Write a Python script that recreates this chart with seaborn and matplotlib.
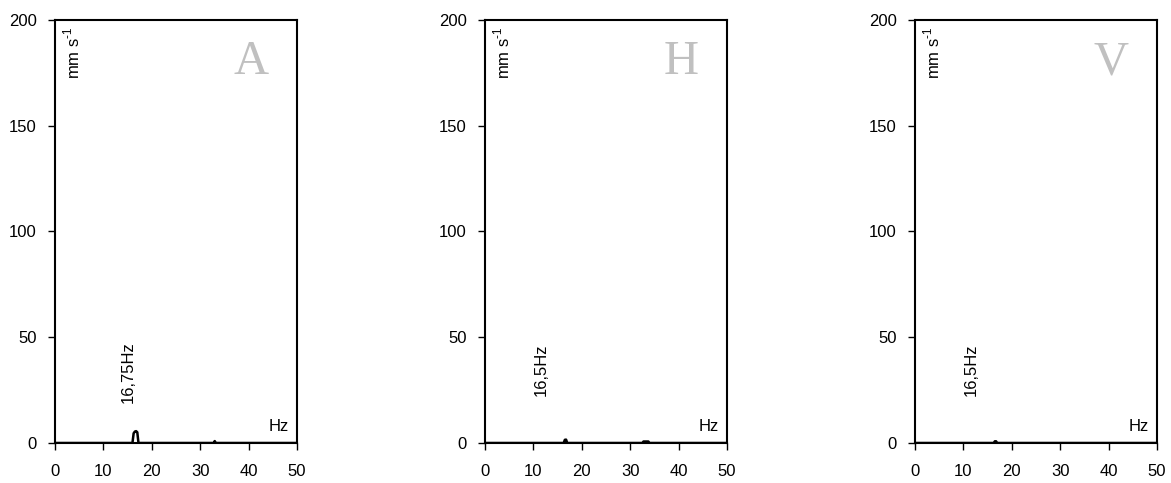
import matplotlib
matplotlib.use("Agg")
import matplotlib.pyplot as plt
import pandas as pd
import seaborn as sns

sns.set_theme(style="white")
plt.rcParams["font.family"] = ["Liberation Sans", "DejaVu Sans"]
plt.rcParams["text.color"] = "black"
plt.rcParams["mathtext.fontset"] = "custom"
plt.rcParams["mathtext.rm"] = "Liberation Sans"

# spectrum values (Hz, mm/s)
A_freq = [0, 16.0, 16.25, 16.5, 16.75, 17.0, 17.25, 32.75, 33.0, 33.25, 50]
A_amp = [0, 0, 4.6, 5.4, 5.6, 5.1, 0, 0, 0.9, 0, 0]

H_freq = [0, 16.25, 16.5, 16.75, 17.0, 32.5, 32.75, 33.75, 34.0, 50]
H_amp = [0, 0, 1.5, 1.6, 0, 0, 0.7, 0.7, 0, 0]

V_freq = [0, 16.25, 16.5, 16.75, 17.0, 50]
V_amp = [0, 0, 0.8, 0.8, 0, 0]

panel_letters = ["A", "H", "V"]
peak_labels = ["16,75Hz", "16,5Hz", "16,5Hz"]
peak_label_x = [15.1, 11.6, 11.6]
peak_label_y = [19, 22, 22]

x_ticks = [0, 10, 20, 30, 40, 50]
y_ticks = [0, 50, 100, 150, 200]

fig = plt.figure(figsize=(11.71, 4.83), dpi=100)
lefts = [55 / 1171, 485 / 1171, 915 / 1171]
series = [(A_freq, A_amp), (H_freq, H_amp), (V_freq, V_amp)]

for i, (freq, amp) in enumerate(series):
    ax = fig.add_axes([lefts[i], 40 / 483, 242 / 1171, 423 / 483])
    df = pd.DataFrame({"Hz": freq, "amp": amp})
    sns.lineplot(data=df, x="Hz", y="amp", ax=ax, color="black",
                 linewidth=1.8, sort=False, estimator=None)
    ax.set_xlim(0, 50)
    ax.set_ylim(0, 200)
    ax.set_xticks(x_ticks)
    ax.set_yticks(y_ticks)
    ax.set_xlabel("")
    ax.set_ylabel("")
    for s in ax.spines.values():
        s.set_color("black")
        s.set_linewidth(1.5)
    ax.tick_params(axis="both", direction="out", length=5, width=1,
                   colors="black", labelsize=12, left=True, bottom=True)
    ax.tick_params(axis="x", pad=10)
    ax.tick_params(axis="y", pad=8)

    ax.text(0.07, 0.985, "mm s$^{\\text{-1}}$", transform=ax.transAxes,
            rotation=90, ha="center", va="top", fontsize=12)
    ax.text(0.81, 0.9, panel_letters[i], transform=ax.transAxes,
            ha="center", va="center", fontsize=35, color="#c0c0c0",
            family=["Liberation Serif", "DejaVu Serif"])
    ax.text(peak_label_x[i], peak_label_y[i], peak_labels[i], rotation=90,
            ha="center", va="bottom", fontsize=12)
    ax.text(0.965, 0.022, "Hz", transform=ax.transAxes,
            ha="right", va="bottom", fontsize=12)

fig.savefig("out.png", dpi=100, facecolor="white")
